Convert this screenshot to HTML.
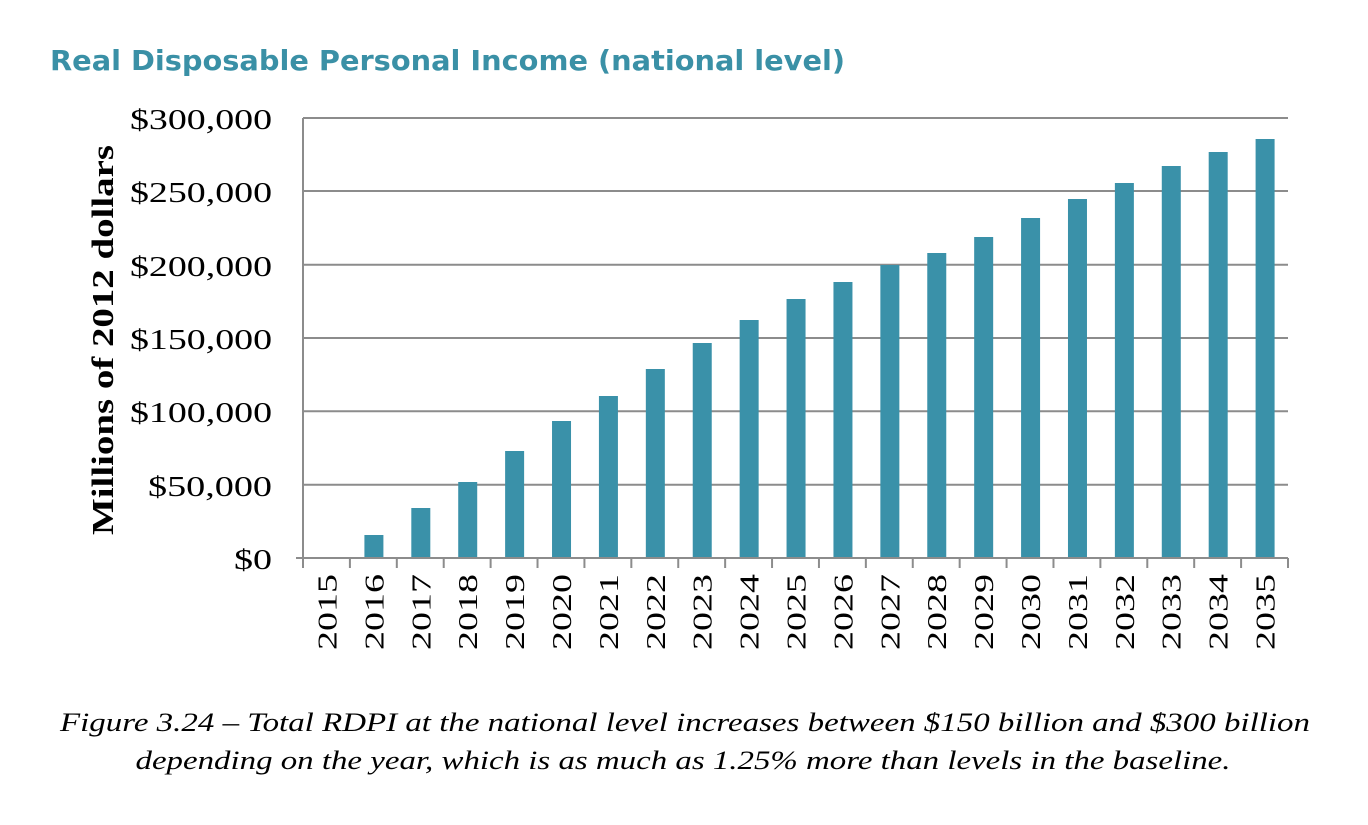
<!DOCTYPE html>
<html><head><meta charset="utf-8"><style>
body{margin:0;background:#fff;width:1368px;height:820px;overflow:hidden}
</style></head><body>
<svg width="1368" height="820" xmlns="http://www.w3.org/2000/svg">
<text x="50" y="70" textLength="795" lengthAdjust="spacingAndGlyphs" font-family="'DejaVu Sans','Liberation Sans',sans-serif" font-weight="bold" font-size="28" fill="#3a90a6">Real Disposable Personal Income (national level)</text>
<g stroke="#8c8c8c" stroke-width="2">
<line x1="303" y1="118" x2="1288" y2="118"/>
<line x1="303" y1="191" x2="1288" y2="191"/>
<line x1="303" y1="264.7" x2="1288" y2="264.7"/>
<line x1="303" y1="338" x2="1288" y2="338"/>
<line x1="303" y1="411.3" x2="1288" y2="411.3"/>
<line x1="303" y1="484.7" x2="1288" y2="484.7"/>
<line x1="303" y1="118" x2="303" y2="558"/>
</g>
<g fill="#3a91a9" id="bars"></g>
<g stroke="#8c8c8c" stroke-width="2" id="ticks"><line x1="296" y1="558" x2="1288" y2="558"/></g>
<g font-family="'Liberation Serif',serif" font-size="28" fill="#000" text-anchor="end" lengthAdjust="spacingAndGlyphs">
<text x="272" y="129" textLength="142" lengthAdjust="spacingAndGlyphs">$300,000</text>
<text x="272" y="202" textLength="142" lengthAdjust="spacingAndGlyphs">$250,000</text>
<text x="272" y="276" textLength="142" lengthAdjust="spacingAndGlyphs">$200,000</text>
<text x="272" y="349" textLength="142" lengthAdjust="spacingAndGlyphs">$150,000</text>
<text x="272" y="422" textLength="142" lengthAdjust="spacingAndGlyphs">$100,000</text>
<text x="272" y="496" textLength="124" lengthAdjust="spacingAndGlyphs">$50,000</text>
<text x="272" y="569" textLength="38" lengthAdjust="spacingAndGlyphs">$0</text>
</g>
<g id="xl" font-family="'Liberation Serif',serif" font-size="27" fill="#000" text-anchor="end"></g>
<text transform="translate(113,340) rotate(-90)" text-anchor="middle" textLength="390" lengthAdjust="spacingAndGlyphs" font-family="'Liberation Serif',serif" font-weight="bold" font-size="31">Millions of 2012 dollars</text>
<g font-family="'Liberation Serif',serif" font-style="italic" font-size="26" text-anchor="middle">
<text x="685" y="731" textLength="1250" lengthAdjust="spacingAndGlyphs">Figure 3.24 – Total RDPI at the national level increases between $150 billion and $300 billion</text>
<text x="683" y="769" textLength="1095" lengthAdjust="spacingAndGlyphs">depending on the year, which is as much as 1.25% more than levels in the baseline.</text>
</g>
</svg>
<script>
var tops=[558,535,508,482,451,421,396,369,343,320,299,282,265,253,237,218,199,183,166,152,139];
var ns="http://www.w3.org/2000/svg",b=document.getElementById('bars'),t=document.getElementById('ticks'),xl=document.getElementById('xl');
var step=(1288-303)/21;
for(var i=0;i<21;i++){
 var x0=303+step*i;
 if(i>0){var r=document.createElementNS(ns,'rect');r.setAttribute('x',x0+14.5);r.setAttribute('y',tops[i]);r.setAttribute('width',19);r.setAttribute('height',558-tops[i]);b.appendChild(r);}
 var l=document.createElementNS(ns,'line');l.setAttribute('x1',x0+step);l.setAttribute('x2',x0+step);l.setAttribute('y1',558);l.setAttribute('y2',568);t.appendChild(l);
 var tx=document.createElementNS(ns,'text');var cx=x0+step/2+10;tx.setAttribute('transform','translate('+cx+',574) rotate(-90)');tx.setAttribute('textLength','76');tx.setAttribute('lengthAdjust','spacingAndGlyphs');tx.textContent=2015+i;xl.appendChild(tx);
}
var l0=document.createElementNS(ns,'line');l0.setAttribute('x1',303);l0.setAttribute('x2',303);l0.setAttribute('y1',558);l0.setAttribute('y2',568);t.appendChild(l0);
</script>
</body></html>
